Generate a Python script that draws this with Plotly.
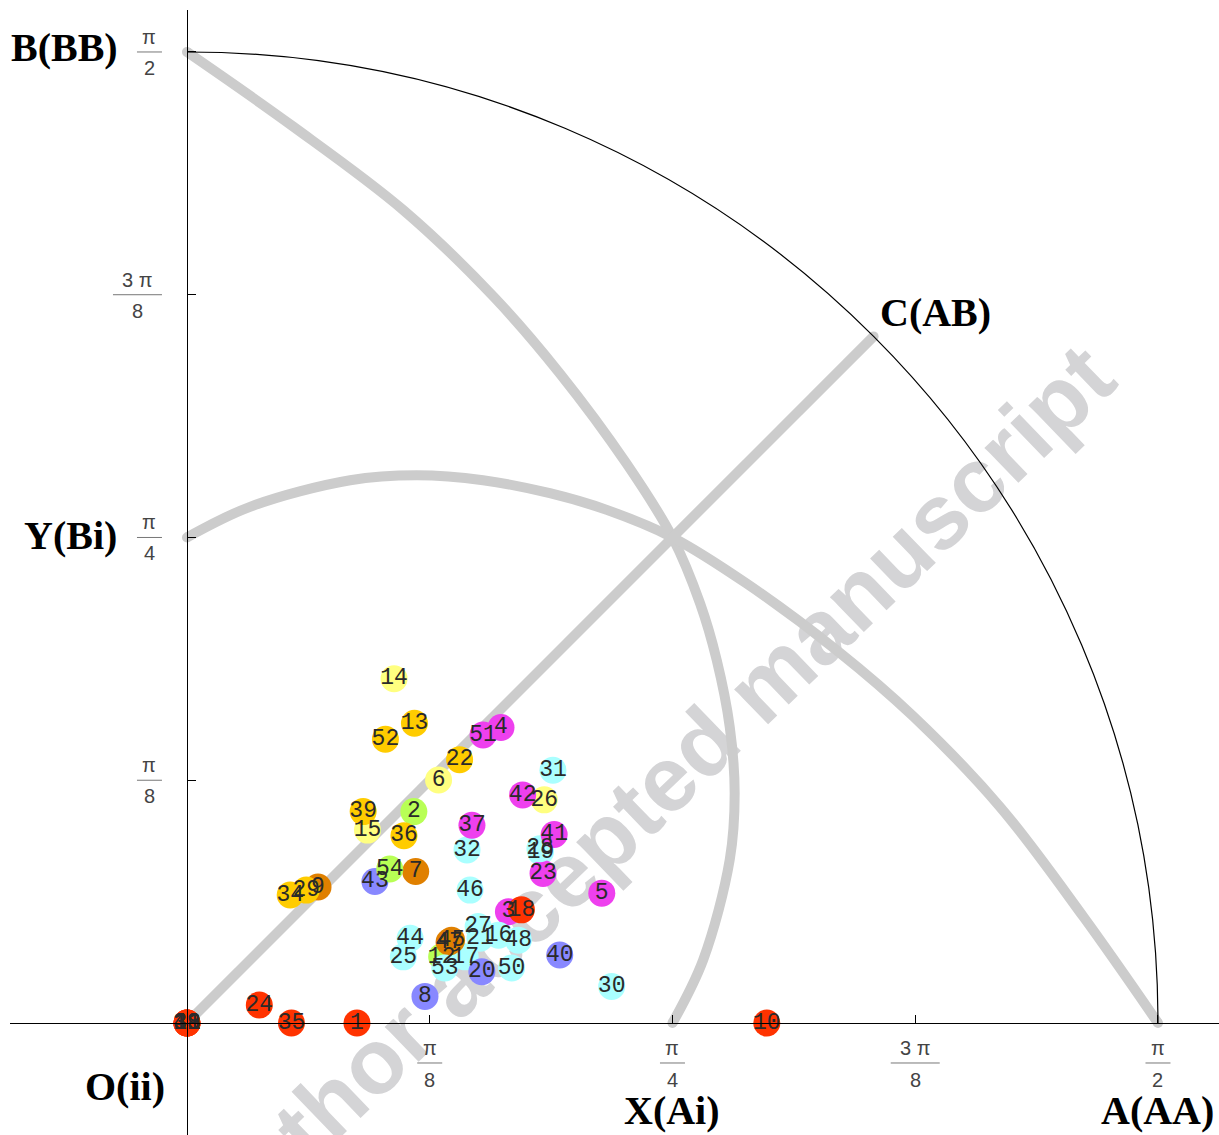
import numpy as np
import plotly.graph_objects as go

PI = np.pi

# ---------------- data (radians) ----------------
labels = [str(i) for i in range(1, 55)]
xs = [0.275, 0.367, 0.520, 0.508, 0.671, 0.407, 0.370, 0.385, 0.212, 0.938,
      0.000, 0.412, 0.368, 0.335, 0.292, 0.504, 0.450, 0.541, 0.572, 0.477,
      0.474, 0.441, 0.576, 0.117, 0.350, 0.578, 0.471, 0.571, 0.193, 0.687,
      0.592, 0.453, 0.000, 0.167, 0.169, 0.351, 0.461, 0.000, 0.285, 0.603,
      0.594, 0.543, 0.304, 0.361, 0.428, 0.458, 0.424, 0.536, 0.000, 0.525,
      0.479, 0.321, 0.417, 0.328]
ys = [0.000, 0.342, 0.180, 0.478, 0.210, 0.393, 0.245, 0.043, 0.220, 0.000,
      0.000, 0.107, 0.485, 0.557, 0.312, 0.142, 0.107, 0.183, 0.277, 0.083,
      0.137, 0.426, 0.242, 0.029, 0.107, 0.361, 0.156, 0.282, 0.215, 0.059,
      0.409, 0.280, 0.000, 0.207, 0.000, 0.303, 0.320, 0.000, 0.342, 0.110,
      0.305, 0.369, 0.229, 0.137, 0.134, 0.215, 0.131, 0.134, 0.000, 0.089,
      0.466, 0.459, 0.089, 0.249]
groups = ["red", "green", "magenta", "magenta", "magenta", "yellow", "orange", "blue", "orange", "red",
          "red", "green", "gold", "yellow", "yellow", "cyan", "cyan", "red", "cyan", "blue",
          "cyan", "gold", "magenta", "red", "cyan", "yellow", "cyan", "cyan", "gold", "cyan",
          "cyan", "cyan", "red", "gold", "red", "gold", "magenta", "red", "gold", "blue",
          "magenta", "magenta", "blue", "cyan", "orange", "cyan", "orange", "cyan", "red", "cyan",
          "magenta", "gold", "cyan", "green"]
group_colors = {"red": "#FF3300", "magenta": "#EE40EE", "yellow": "#FFFF80",
                "gold": "#FFCC00", "orange": "#E08000", "green": "#B8FF55",
                "cyan": "#AAFFFF", "blue": "#8888FF"}

# reference vertices
R = PI / 2
vertices = {"O": (0.0, 0.0), "X": (PI / 4, 0.0), "A": (PI / 2, 0.0),
            "Y": (0.0, PI / 4), "B": (0.0, PI / 2),
            "C": (PI / (2 * np.sqrt(2)), PI / (2 * np.sqrt(2)))}
vertex_labels = {"B": "B(BB)", "Y": "Y(Bi)", "C": "C(AB)", "O": "O(ii)",
                 "X": "X(Ai)", "A": "A(AA)"}
vertex_label_shift = {"B": (-122, 4), "Y": (-116, 2), "C": (62, 24),
                      "O": (-62, -64), "X": (0, -88), "A": (0, -88)}

# B-X guide curve (x, y); the Y-A curve is its mirror
bx_curve_x = [PI / 4, 0.835, 0.878, 0.886, 0.878, 0.857, 0.830, PI / 4, 0.711, 0.603, 0.496, 0.350, 0.172, 0.0]
bx_curve_y = [0.0, 0.102, 0.264, 0.372, 0.479, 0.587, 0.679, PI / 4, 0.905, 1.051, 1.175, 1.315, 1.450, PI / 2]

# tick marks / labels
tick_vals = [PI / 8, PI / 4, 3 * PI / 8, PI / 2]
tick_num = ["π", "π", "3 π", "π"]
tick_den = ["8", "4", "8", "2"]

# ---------------- layout geometry ----------------
xr = [-0.2863, 1.6695]
yr = [-0.1812, 1.6387]

fig = go.Figure()

GRAY = "#CCCCCC"
# guide curves
fig.add_trace(go.Scatter(x=bx_curve_x, y=bx_curve_y, mode="lines",
                         line=dict(color=GRAY, width=10, shape="spline"), hoverinfo="skip"))
fig.add_trace(go.Scatter(x=bx_curve_y, y=bx_curve_x, mode="lines",
                         line=dict(color=GRAY, width=10, shape="spline"), hoverinfo="skip"))
fig.add_trace(go.Scatter(x=[vertices["O"][0], vertices["C"][0]], y=[vertices["O"][1], vertices["C"][1]],
                         mode="lines", line=dict(color=GRAY, width=10), hoverinfo="skip"))
cap_keys = ["B", "X", "Y", "A", "O", "C"]
fig.add_trace(go.Scatter(x=[vertices[k][0] for k in cap_keys], y=[vertices[k][1] for k in cap_keys],
                         mode="markers", marker=dict(color=GRAY, size=10), hoverinfo="skip"))

# points
fig.add_trace(go.Scatter(
    x=xs, y=ys, mode="markers+text", text=labels, textposition="middle center",
    marker=dict(size=27, color=[group_colors[g] for g in groups], line=dict(width=0)),
    textfont=dict(family="Liberation Mono", size=23, color="#2a2a2a"),
    hoverinfo="skip"))

shapes = []
# outer arc r = pi/2 (cubic Bezier quarter circle)
k = 0.5523 * R
shapes.append(dict(type="path", xref="x", yref="y",
                   path=f"M 0,{R} C {k},{R} {R},{k} {R},0",
                   line=dict(color="black", width=1.2), layer="above"))

# watermark (below traces)
wc = (0.738, 0.380)
ang = np.deg2rad(44)
L = 0.6
shapes.append(dict(type="line", xref="x", yref="y", layer="below",
                   x0=wc[0] - L * np.cos(ang), y0=wc[1] - L * np.sin(ang),
                   x1=wc[0] + L * np.cos(ang), y1=wc[1] + L * np.sin(ang),
                   line=dict(color="rgba(0,0,0,0)", width=1),
                   label=dict(text="Author accepted manuscript", textangle=-44,
                              textposition="middle", xanchor="center", yanchor="middle",
                              font=dict(family="Liberation Sans", size=92, color="#D4D4D6",
                                        weight="bold"))))

annotations = []
FR_FONT = dict(family="Liberation Sans", size=20, color="#444444")
BAR_COLOR = "#777777"
for v, n, d in zip(tick_vals, tick_num, tick_den):
    w = 49 if len(n) > 1 else 25
    # y axis fraction (right aligned, 25 px left of axis)
    cx = -25 - w / 2
    annotations.append(dict(x=0, y=v, xref="x", yref="y", text=n, showarrow=False,
                            xshift=cx, yshift=15, font=FR_FONT, xanchor="center", yanchor="middle"))
    annotations.append(dict(x=0, y=v, xref="x", yref="y", text=d, showarrow=False,
                            xshift=cx, yshift=-16, font=FR_FONT, xanchor="center", yanchor="middle"))
    shapes.append(dict(type="line", xref="x", yref="y", xsizemode="pixel", xanchor=0,
                       x0=-25 - w, x1=-25, y0=v, y1=v, line=dict(color=BAR_COLOR, width=1)))
    # x axis fraction (centred under tick)
    annotations.append(dict(x=v, y=0, xref="x", yref="y", text=n, showarrow=False,
                            yshift=-25, font=FR_FONT, xanchor="center", yanchor="middle"))
    annotations.append(dict(x=v, y=0, xref="x", yref="y", text=d, showarrow=False,
                            yshift=-57, font=FR_FONT, xanchor="center", yanchor="middle"))
    shapes.append(dict(type="line", xref="x", yref="y", xsizemode="pixel", xanchor=v,
                       ysizemode="pixel", yanchor=0,
                       x0=-w / 2, x1=w / 2, y0=-40, y1=-40, line=dict(color=BAR_COLOR, width=1)))

for key, txt in vertex_labels.items():
    vx, vy = vertices[key]
    dx, dy = vertex_label_shift[key]
    annotations.append(dict(x=vx, y=vy, xref="x", yref="y", text=txt, showarrow=False,
                            xshift=dx, yshift=dy, xanchor="center", yanchor="middle",
                            font=dict(family="Liberation Serif", size=40, color="black",
                                      weight="bold")))

fig.update_layout(
    width=1219, height=1135,
    margin=dict(l=10, r=0, t=10, b=0),
    paper_bgcolor="white", plot_bgcolor="white",
    showlegend=False,
    shapes=shapes, annotations=annotations,
    xaxis=dict(range=xr, anchor="free", position=(0 - yr[0]) / (yr[1] - yr[0]),
               showline=True, linecolor="black", linewidth=1, ticks="inside", ticklen=8,
               tickcolor="black", tickvals=tick_vals, showticklabels=False,
               showgrid=False, zeroline=False, fixedrange=True),
    yaxis=dict(range=yr, anchor="free", position=(0 - xr[0]) / (xr[1] - xr[0]),
               showline=True, linecolor="black", linewidth=1, ticks="inside", ticklen=8,
               tickcolor="black", tickvals=tick_vals, showticklabels=False,
               showgrid=False, zeroline=False, fixedrange=True),
    hovermode=False,
)

fig.write_html("out.html", config={"displayModeBar": False})
